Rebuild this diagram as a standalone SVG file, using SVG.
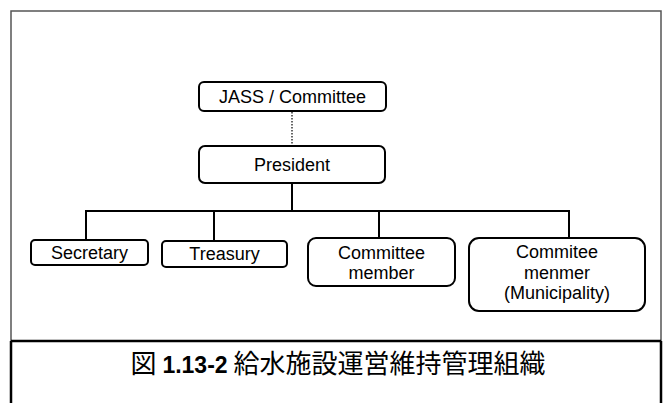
<svg xmlns="http://www.w3.org/2000/svg" width="664" height="403" viewBox="0 0 664 403">
  <style>
    .box { fill: #ffffff; stroke: #000000; stroke-width: 2; }
    .lbl { font-family: "Liberation Sans", Arial, sans-serif; font-size: 18px; fill: #000000; text-anchor: middle; }
    .conn { stroke: #000000; stroke-width: 2; fill: none; }
    .frame { stroke: #555555; stroke-width: 1.5; fill: none; }
    .frame2 { stroke: #000000; stroke-width: 2.5; fill: none; }
    .cap { font-family: "Noto Sans CJK JP", "Noto Sans", sans-serif; font-size: 26px; fill: #000000; text-anchor: middle; }
    .capnum { font-family: "Liberation Sans", Arial, sans-serif; font-weight: bold; font-size: 23px; }
  </style>
  <rect width="664" height="403" fill="#ffffff"/>
  <g id="frame">
    <path class="frame" d="M11,341 V11 H661 V341"/>
    <line class="frame2" x1="11" y1="341" x2="661" y2="341"/>
    <path class="frame2" d="M11,341 V403 M661,341 V403"/>
  </g>
  <g id="connectors">
    <line x1="292" y1="112" x2="292" y2="146" stroke="#000" stroke-width="1.2" stroke-dasharray="1.5,1.5"/>
    <line class="conn" x1="292" y1="183" x2="292" y2="211" stroke-width="2.5"/>
    <line class="conn" x1="85" y1="211" x2="570" y2="211"/>
    <line class="conn" x1="86" y1="211" x2="86" y2="240"/>
    <line class="conn" x1="214" y1="211" x2="214" y2="241"/>
    <line class="conn" x1="379" y1="211" x2="379" y2="238"/>
    <line class="conn" x1="569" y1="211" x2="569" y2="238"/>
  </g>
  <g id="jass">
    <rect class="box" x="199" y="82" width="187" height="29" rx="5"/>
    <text class="lbl" x="292.5" y="102.5" font-size="16.5">JASS / Committee</text>
  </g>
  <g id="president">
    <rect class="box" x="199" y="146" width="186" height="37" rx="6"/>
    <text class="lbl" x="292" y="171" font-size="19">President</text>
  </g>
  <g id="secretary">
    <rect class="box" x="31" y="240" width="117" height="25" rx="4"/>
    <text class="lbl" x="89.5" y="259" font-size="18.5">Secretary</text>
  </g>
  <g id="treasury">
    <rect class="box" x="162" y="241" width="125" height="26" rx="4"/>
    <text class="lbl" x="224.5" y="260" font-size="18.5">Treasury</text>
  </g>
  <g id="committee-member">
    <rect class="box" x="308" y="238" width="147" height="48" rx="8"/>
    <text class="lbl" x="381.5" y="258.5">Committee</text>
    <text class="lbl" x="381.5" y="279">member</text>
  </g>
  <g id="committee-municipality">
    <rect class="box" x="469" y="238" width="176" height="73" rx="10"/>
    <text class="lbl" x="557" y="258">Commitee</text>
    <text class="lbl" x="557" y="278.5">menmer</text>
    <text class="lbl" x="557" y="299">(Municipality)</text>
  </g>
  <g id="caption">
    <text class="cap" x="338" y="373">図 <tspan class="capnum">1.13-2</tspan> 給水施設運営維持管理組織</text>
  </g>
</svg>
